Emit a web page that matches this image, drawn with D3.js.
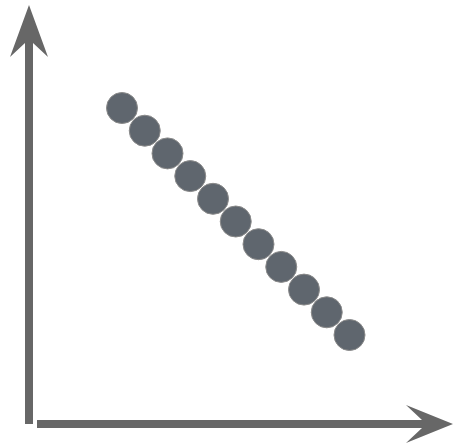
<!DOCTYPE html>
<html>
<head>
<meta charset="utf-8">
<script src="https://cdn.jsdelivr.net/npm/d3@7/dist/d3.min.js"></script>
<style>
  html, body { margin: 0; padding: 0; background: #fff; }
  svg { display: block; }
</style>
</head>
<body>
<script>
// Points on a descending line
const xValues = [1, 2, 3, 4, 5, 6, 7, 8, 9, 10, 11];
const yValues = [11, 10, 9, 8, 7, 6, 5, 4, 3, 2, 1];

const W = 454, H = 443;
const axisColor = "#676767";
const dotColor = "#5f666e";

const svg = d3.select("body").append("svg")
  .attr("width", W).attr("height", H);

const x = d3.scaleLinear().domain([1, 11]).range([122, 349.5]);
const y = d3.scaleLinear().domain([1, 11]).range([335, 108]);

// Axis lines with arrowheads
const axisX0 = 29, axisY0 = 424;
svg.append("rect").attr("x", axisX0 - 4).attr("y", 40).attr("width", 8)
  .attr("height", axisY0 - 40).attr("fill", axisColor);
svg.append("path")
  .attr("d", `M${axisX0},5 L${axisX0 + 19},57 L${axisX0 + 4},43 L${axisX0 - 4},43 L${axisX0 - 19},57 Z`)
  .attr("fill", axisColor);

svg.append("rect").attr("x", 37).attr("y", axisY0 - 4).attr("width", 388)
  .attr("height", 8).attr("fill", axisColor);
svg.append("path")
  .attr("d", `M453,${axisY0} L406,${axisY0 + 19} L422,${axisY0 + 4} L422,${axisY0 - 4} L406,${axisY0 - 19} Z`)
  .attr("fill", axisColor);

// Dots
const data = xValues.map((v, i) => ({ x: v, y: yValues[i] }));
svg.selectAll("circle.dot").data(data).enter().append("circle")
  .attr("class", "dot")
  .attr("cx", d => x(d.x))
  .attr("cy", d => y(d.y))
  .attr("r", 15.5)
  .attr("fill", dotColor)
  .attr("stroke", "#8a8a8a")
  .attr("stroke-width", 1);
</script>
</body>
</html>
